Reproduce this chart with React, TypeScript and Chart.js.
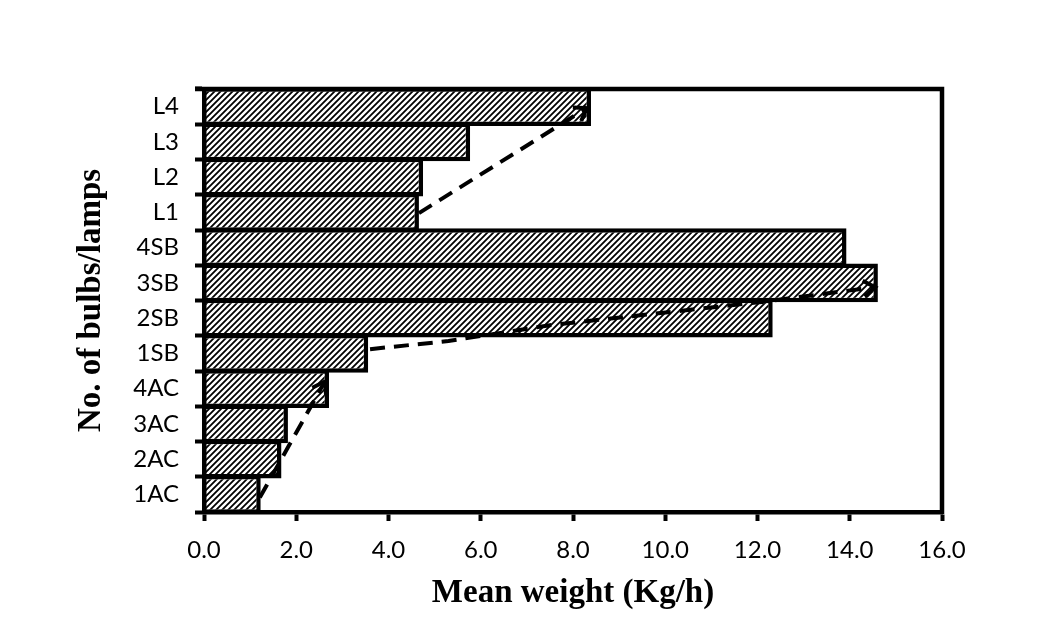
import React, { useEffect, useRef } from "react";
import { Chart, registerables } from "chart.js";

Chart.register(...registerables);

// Categories from bottom (1AC) to top (L4)
const CATEGORIES = ["1AC", "2AC", "3AC", "4AC", "1SB", "2SB", "3SB", "4SB", "L1", "L2", "L3", "L4"];
const MEAN_WEIGHT = [1.23, 1.68, 1.82, 2.71, 3.56, 12.33, 14.61, 13.93, 4.66, 4.75, 5.77, 8.39];
const X_TICKS = [0, 2, 4, 6, 8, 10, 12, 14, 16];

// Trend arrows: x values (Kg/h) and y positions (category index)
const ARROW_AC_X = [1.21, 2.62];
const ARROW_AC_Y = [-0.09, 3.2];
const ARROW_SB_X = [3.6, 5.3, 7.5, 12.1, 14.55];
const ARROW_SB_Y = [4.12, 4.35, 4.8, 5.46, 5.88];
const ARROW_L_X = [4.66, 8.3];
const ARROW_L_Y = [7.98, 10.96];

const X_TITLE = "Mean weight (Kg/h)";
const Y_TITLE = "No. of bulbs/lamps";

const TICK_FONT = { family: "Lato, 'Noto Sans', sans-serif", size: 24 };
const TITLE_FONT = { family: "'Liberation Serif', 'Times New Roman', serif", size: 33, weight: "bold" as const };

function makeHatch(ctx: CanvasRenderingContext2D) {
  const s = 6;
  const c = document.createElement("canvas");
  c.width = s;
  c.height = s;
  const g = c.getContext("2d")!;
  g.fillStyle = "#ffffff";
  g.fillRect(0, 0, s, s);
  g.strokeStyle = "#000000";
  g.lineWidth = 1.8;
  g.beginPath();
  g.moveTo(-1, s + 1);
  g.lineTo(s + 1, -1);
  g.moveTo(-1, 1);
  g.lineTo(1, -1);
  g.moveTo(s - 1, s + 1);
  g.lineTo(s + 1, s - 1);
  g.stroke();
  return ctx.createPattern(c, "repeat");
}

const framePlugin = {
  id: "frame",
  afterDatasetsDraw(chart: any) {
    const { ctx, chartArea } = chart;
    ctx.save();
    ctx.strokeStyle = "#000";
    ctx.lineWidth = 4.5;
    ctx.beginPath();
    ctx.moveTo(chartArea.left - 9, chartArea.top);
    ctx.lineTo(chartArea.right, chartArea.top);
    ctx.lineTo(chartArea.right, chartArea.bottom + 2);
    ctx.stroke();
    ctx.restore();
  },
};

const arrowPlugin = {
  id: "arrows",
  afterDatasetsDraw(chart: any) {
    const { ctx } = chart;
    const xs = chart.scales.x;
    const ys = chart.scales.y;
    const paths = [
      [ARROW_AC_X, ARROW_AC_Y],
      [ARROW_SB_X, ARROW_SB_Y],
      [ARROW_L_X, ARROW_L_Y],
    ];
    ctx.save();
    ctx.strokeStyle = "#000";
    ctx.lineWidth = 4;
    paths.forEach(([px, py]) => {
      const pts = px.map((v, i) => [xs.getPixelForValue(v), ys.getPixelForValue(py[i])]);
      ctx.setLineDash([15, 9]);
      ctx.beginPath();
      ctx.moveTo(pts[0][0], pts[0][1]);
      for (let i = 1; i < pts.length; i++) ctx.lineTo(pts[i][0], pts[i][1]);
      ctx.stroke();
      // arrow head
      const [ex, ey] = pts[pts.length - 1];
      const [sx, sy] = pts[pts.length - 2];
      const ang = Math.atan2(ey - sy, ex - sx);
      const len = 14;
      ctx.setLineDash([]);
      ctx.beginPath();
      ctx.moveTo(ex - len * Math.cos(ang - 0.6), ey - len * Math.sin(ang - 0.6));
      ctx.lineTo(ex, ey);
      ctx.lineTo(ex - len * Math.cos(ang + 0.6), ey - len * Math.sin(ang + 0.6));
      ctx.stroke();
    });
    ctx.restore();
  },
};

export default function App() {
  const ref = useRef<HTMLCanvasElement | null>(null);

  useEffect(() => {
    const canvas = ref.current!;
    const ctx = canvas.getContext("2d")!;
    const hatch = makeHatch(ctx);
    const chart = new Chart(ctx, {
      type: "bar",
      data: {
        labels: CATEGORIES,
        datasets: [
          {
            data: MEAN_WEIGHT,
            backgroundColor: hatch as any,
            borderColor: "#000",
            borderWidth: 4.5,
            borderSkipped: "start",
            barPercentage: 1.1,
            categoryPercentage: 1,
          },
        ],
      },
      options: {
        indexAxis: "y",
        animation: false,
        responsive: false,
        devicePixelRatio: 1,
        layout: { padding: { top: 89, right: 99, left: 0, bottom: 0 } },
        plugins: {
          legend: { display: false },
          tooltip: { enabled: false },
        },
        scales: {
          x: {
            type: "linear",
            min: 0,
            max: 16,
            afterFit: (s: any) => {
              s.height = 115;
            },
            afterBuildTicks: (s: any) => {
              s.ticks = X_TICKS.map((v) => ({ value: v }));
            },
            ticks: {
              color: "#000",
              font: TICK_FONT,
              padding: 15,
              maxRotation: 0,
              callback: (v: any) => Number(v).toFixed(1),
            },
            grid: {
              drawOnChartArea: false,
              drawTicks: true,
              tickLength: 9,
              tickWidth: 4,
              tickColor: "#000",
            },
            border: { display: true, color: "#000", width: 4.5, z: 1 },
            title: {
              display: true,
              text: X_TITLE,
              color: "#000",
              font: TITLE_FONT,
              padding: { top: 0, bottom: 14 },
            },
          },
          y: {
            type: "category",
            reverse: true,
            afterFit: (s: any) => {
              s.width = 204;
            },
            ticks: {
              color: "#000",
              font: TICK_FONT,
              padding: 16,
            },
            grid: {
              offset: true,
              drawOnChartArea: false,
              drawTicks: true,
              tickLength: 9,
              tickWidth: 4,
              tickColor: "#000",
            },
            border: { display: true, color: "#000", width: 4.5, z: 1 },
            title: {
              display: true,
              text: Y_TITLE,
              color: "#000",
              font: TITLE_FONT,
              padding: { top: 72, bottom: 0 },
            },
          },
        },
      },
      plugins: [framePlugin, arrowPlugin],
    });
    return () => chart.destroy();
  }, []);

  return (
    <div style={{ position: "absolute", left: 0, top: 0, width: 1041, height: 627, background: "#fff" }}>
      <canvas ref={ref} width={1041} height={627} style={{ display: "block" }} />
    </div>
  );
}
